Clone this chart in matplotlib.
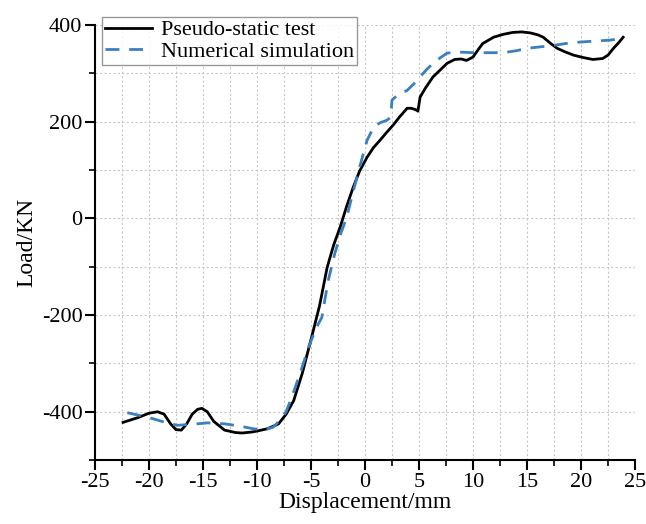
import numpy as np
import matplotlib
matplotlib.use("Agg")
import matplotlib.pyplot as plt
from matplotlib.ticker import MultipleLocator

plt.rcParams["font.family"] = ["Liberation Serif", "DejaVu Serif"]
plt.rcParams["axes.unicode_minus"] = False

# pseudo-static test (black solid)
test_x = [-22.4, -21.0, -20.0, -19.2, -18.6, -18.0, -17.5, -17.0, -16.5, -16.0, -15.5,
          -15.1, -14.6, -14.0, -13.0, -12.0, -11.4, -10.5, -10.0, -9.0, -8.0, -7.3,
          -6.6, -5.8, -4.9, -4.2, -3.5, -2.9, -2.3, -1.7, -1.1, -0.5, 0.2, 0.8, 1.4,
          2.0, 2.6, 3.2, 3.9, 4.3, 4.7, 4.9, 5.1, 5.6, 6.3, 7.0, 7.6, 8.3, 8.9, 9.4,
          10.0, 10.5, 10.9, 11.9, 12.8, 13.7, 14.5, 15.3, 16.0, 16.5, 17.2, 17.8,
          18.5, 19.3, 20.2, 21.1, 22.0, 22.5, 23.0, 23.5, 23.9]
test_y = [-422, -412, -403, -400, -405, -425, -437, -438, -425, -405, -395,
          -393, -400, -420, -438, -443, -444, -442, -440, -435, -425, -405,
          -377, -320, -242, -180, -101, -55, -18, 25, 64, 98, 127, 147, 162,
          178, 193, 210, 228, 228, 225, 222, 251, 270, 293, 308, 321, 329, 330, 327,
          334, 350, 362, 375, 381, 385, 386, 384, 380, 375, 362, 352,
          345, 338, 333, 329, 331, 338, 352, 364, 375]

# numerical simulation (blue dashed)
sim_x = [-22.0, -20.0, -18.5, -17.4, -16.0, -14.6, -13.0, -11.5, -10.4, -9.4, -8.5,
         -7.9, -7.3, -6.8, -6.0, -5.2, -4.5, -4.0, -3.4, -2.8, -2.3, -1.7, -1.1,
         -0.5, 0.2, 0.8, 1.4, 2.0, 2.3, 2.4, 2.5, 3.0, 3.9, 4.5, 5.1, 5.7, 6.3, 7.0,
         7.6, 8.3, 9.1, 10.0, 11.3, 12.2, 13.1, 14.0, 15.0, 16.2, 17.4, 18.6, 19.9,
         21.3, 22.7, 23.8]
sim_y = [-402, -412, -422, -428, -426, -423, -425, -430, -435, -438, -432,
         -418, -400, -371, -320, -265, -226, -205, -128, -73, -35, 2, 55,
         106, 162, 189, 198, 203, 208, 217, 245, 255, 265, 278, 293, 308, 321, 333,
         342, 344, 344, 343, 343, 343, 344, 347, 352, 355, 358, 362, 365,
         367, 369, 373]

x_ticks = [-25, -20, -15, -10, -5, 0, 5, 10, 15, 20, 25]
y_ticks = [-400, -200, 0, 200, 400]

fig = plt.figure(figsize=(6.46, 5.24), dpi=100)
ax = fig.add_axes([0.147, 0.122, 0.836, 0.830])

ax.plot(test_x, test_y, color="black", lw=2.0, label="Pseudo-static test")
ax.plot(sim_x, sim_y, color="#3b7fbf", lw=2.0, ls=(0, (5, 3.5)), label="Numerical simulation")

ax.set_xlim(-25, 25)
ax.set_ylim(-500, 400)
ax.set_xticks(x_ticks)
ax.set_yticks(y_ticks)
ax.xaxis.set_minor_locator(MultipleLocator(2.5))
ax.yaxis.set_minor_locator(MultipleLocator(100))
ax.grid(True, which="both", color="#c8c8c8", ls=(0, (2, 2)), lw=0.8)

for s in ["top", "right"]:
    ax.spines[s].set_visible(False)
for s in ["left", "bottom"]:
    ax.spines[s].set_linewidth(1.5)
ax.tick_params(which="major", direction="out", length=7, width=1.5, labelsize=16, pad=2)
ax.tick_params(which="minor", direction="out", length=4.5, width=1.2)

ax.set_xlabel("Displacement/mm", fontsize=17, labelpad=0)
ax.set_ylabel("Load/KN", fontsize=17, labelpad=3)

leg = ax.legend(loc="upper left", bbox_to_anchor=(0.005, 1.03), fontsize=16,
                frameon=True, fancybox=False, edgecolor="#808080",
                handlelength=2.1, borderpad=0.15, labelspacing=0.05,
                handletextpad=0.4, borderaxespad=0.2)
leg.get_frame().set_linewidth(1.0)

fig.savefig("out.png", dpi=100)
